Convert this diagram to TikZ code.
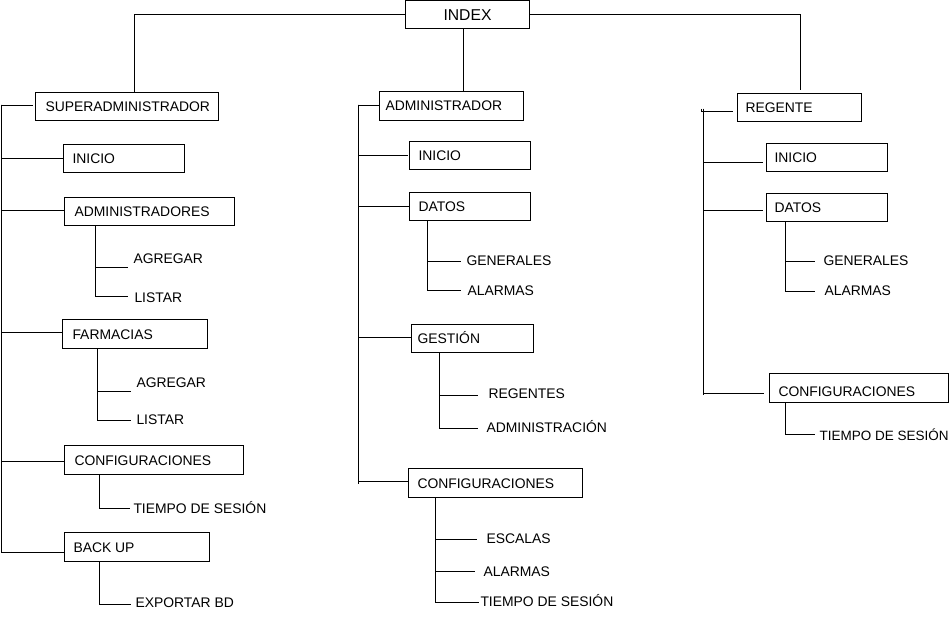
\documentclass[tikz,border=0pt]{standalone}
\usepackage{fontspec}
\setmainfont{Liberation Sans}
\newcommand\bxt[3]{\makebox[#1pt][l]{\hspace*{#2pt}#3}}
\begin{document}
\begin{tikzpicture}[x=1pt,y=-1pt, line width=1pt,
  every node/.style={font=\fontsize{13.9pt}{16pt}\selectfont},
  box/.style={draw, anchor=north west, inner xsep=0pt, inner ysep=0pt, minimum height=28pt, text height=10pt, text depth=0pt},
  tall/.style={minimum height=29pt},
  lab/.style={anchor=west, inner sep=0pt, text height=10pt, text depth=0pt}]
\useasboundingbox (0,0) rectangle (951,639);

% top
\node[box, minimum width=124pt, minimum height=27.5pt, text height=11.2pt, font=\fontsize{15.7pt}{18pt}\selectfont] (index) at (405,0.5) {INDEX};

% left column
\node[box] (sa) at (35,92) {\bxt{183}{10}{SUPERADMINISTRADOR}};
\node[box] (li) at (63,144) {\bxt{121}{9}{INICIO}};
\node[box] (lad) at (64,197) {\bxt{170}{10}{ADMINISTRADORES}};
\node[box, tall] (lfa) at (62,319) {\bxt{145}{10}{FARMACIAS}};
\node[box, tall] (lco) at (64,445) {\bxt{179}{10}{CONFIGURACIONES}};
\node[box, tall] (lbk) at (64,532) {\bxt{145}{9}{BACK UP}};

% middle column
\node[box, tall] (ad) at (379,91) {\bxt{144}{6}{ADMINISTRADOR}};
\node[box] (mi) at (409,141) {\bxt{121}{9}{INICIO}};
\node[box] (mda) at (409,192) {\bxt{121}{9}{DATOS}};
\node[box] (mge) at (411,324) {\bxt{122}{6}{GESTIÓN}};
\node[box, tall] (mco) at (408,468) {\bxt{174}{9}{CONFIGURACIONES}};

% right column
\node[box] (rg) at (737,93) {\bxt{124}{8}{REGENTE}};
\node[box] (ri) at (766,143) {\bxt{121}{8}{INICIO}};
\node[box] (rda) at (766,193) {\bxt{121}{8}{DATOS}};
\node[box, tall] (rco) at (769,373) {\bxt{179}{9}{\raisebox{-3.5pt}{CONFIGURACIONES}}};

% sub labels
\node[lab] (ag1) at (133,259) {AGREGAR};
\node[lab] (li1) at (134,297) {LISTAR};
\node[lab] (ag2) at (136,382) {AGREGAR};
\node[lab] (li2) at (136,419) {LISTAR};
\node[lab] (ts1) at (133,508) {TIEMPO DE SESIÓN};
\node[lab] (ex) at (135,602) {EXPORTAR BD};
\node[lab] (ge1) at (466,261) {GENERALES};
\node[lab] (al1) at (467,290) {ALARMAS};
\node[lab] (re) at (488,393) {REGENTES};
\node[lab] (adm) at (486,427) {ADMINISTRACIÓN};
\node[lab] (es) at (486,538) {ESCALAS};
\node[lab] (al2) at (483,571) {ALARMAS};
\node[lab] (ts2) at (480,601) {TIEMPO DE SESIÓN};
\node[lab] (ge2) at (823,261) {GENERALES};
\node[lab] (al3) at (824,290) {ALARMAS};
\node[lab, font=\fontsize{13.5pt}{16pt}\selectfont] (ts3) at (819,435) {TIEMPO DE SESIÓN};

% top connectors
\draw (index.west) -| ([xshift=7.5pt]sa.north);
\draw (index.east) -| ([xshift=1pt,yshift=3pt]rg.north);
\draw ([xshift=-4pt]index.south) -- ([xshift=12pt]ad.north);

% trunks
\coordinate (lt) at (1.5,105);
\coordinate (lb) at (1.5,553);
\coordinate (mt) at (358,105);
\coordinate (mb) at (358,484);
\coordinate (rt) at (703,109);
\coordinate (rb) at (703,395);
\draw (lt) -- (lb);
\draw (mt) -- (mb);
\draw (rt) -- (rb);

% left branches
\draw (lt) |- ([xshift=-2pt,yshift=1pt]sa.west);
\draw (lt) |- (li.west);
\draw (lt) |- ([yshift=1pt]lad.west);
\draw (lt) |- ([yshift=1.5pt]lfa.west);
\draw (lt) |- ([yshift=-1.5pt]lco.west);
\draw (lt) |- ([yshift=-5.5pt]lbk.west);

% middle branches
\draw (mt) |- ([yshift=0.5pt]ad.west);
\draw (mt) |- ([xshift=-1pt]mi.west);
\draw (mt) |- (mda.west);
\draw (mt) |- ([yshift=1pt]mge.west);
\draw (mt) |- ([yshift=1.5pt]mco.west);

% right branches
\draw ([xshift=-2pt]rt) |- ([xshift=-4pt,yshift=-4pt]rg.west);
\draw (rt) |- ([xshift=-3pt,yshift=-5pt]ri.west);
\draw (rt) |- ([xshift=-3pt,yshift=-3pt]rda.west);
\draw (rt) |- ([xshift=-5pt,yshift=-5.5pt]rco.west);

% sub connectors
\draw ([xshift=31pt]lad.south west) |- ([xshift=-5pt,yshift=-9pt]ag1.west);
\draw ([xshift=31pt]lad.south west) |- ([xshift=-6pt]li1.west);
\draw ([xshift=35pt]lfa.south west) |- ([xshift=-5pt,yshift=-9pt]ag2.west);
\draw ([xshift=35pt]lfa.south west) |- ([xshift=-5pt,yshift=-1pt]li2.west);
\draw ([xshift=35pt]lco.south west) |- ([xshift=-3pt]ts1.west);
\draw ([xshift=35pt]lbk.south west) |- ([xshift=-4pt,yshift=-2pt]ex.west);
\draw ([xshift=18pt]mda.south west) |- ([xshift=-5pt,yshift=-1pt]ge1.west);
\draw ([xshift=18pt]mda.south west) |- ([xshift=-6pt,yshift=-1pt]al1.west);
\draw ([xshift=28pt]mge.south west) |- ([xshift=-10pt,yshift=-2pt]re.west);
\draw ([xshift=28pt]mge.south west) |- ([xshift=-8pt,yshift=-1pt]adm.west);
\draw ([xshift=27pt]mco.south west) |- ([xshift=-9pt,yshift=-1pt]es.west);
\draw ([xshift=27pt]mco.south west) |- ([xshift=-8pt]al2.west);
\draw ([xshift=27pt]mco.south west) |- ([xshift=-1pt,yshift=-1pt]ts2.west);
\draw ([xshift=19pt]rda.south west) |- ([xshift=-8pt,yshift=-1pt]ge2.west);
\draw ([xshift=19pt]rda.south west) |- ([xshift=-9pt,yshift=-2pt]al3.west);
\draw ([xshift=16pt]rco.south west) |- ([xshift=-4pt,yshift=1pt]ts3.west);
\end{tikzpicture}
\end{document}
